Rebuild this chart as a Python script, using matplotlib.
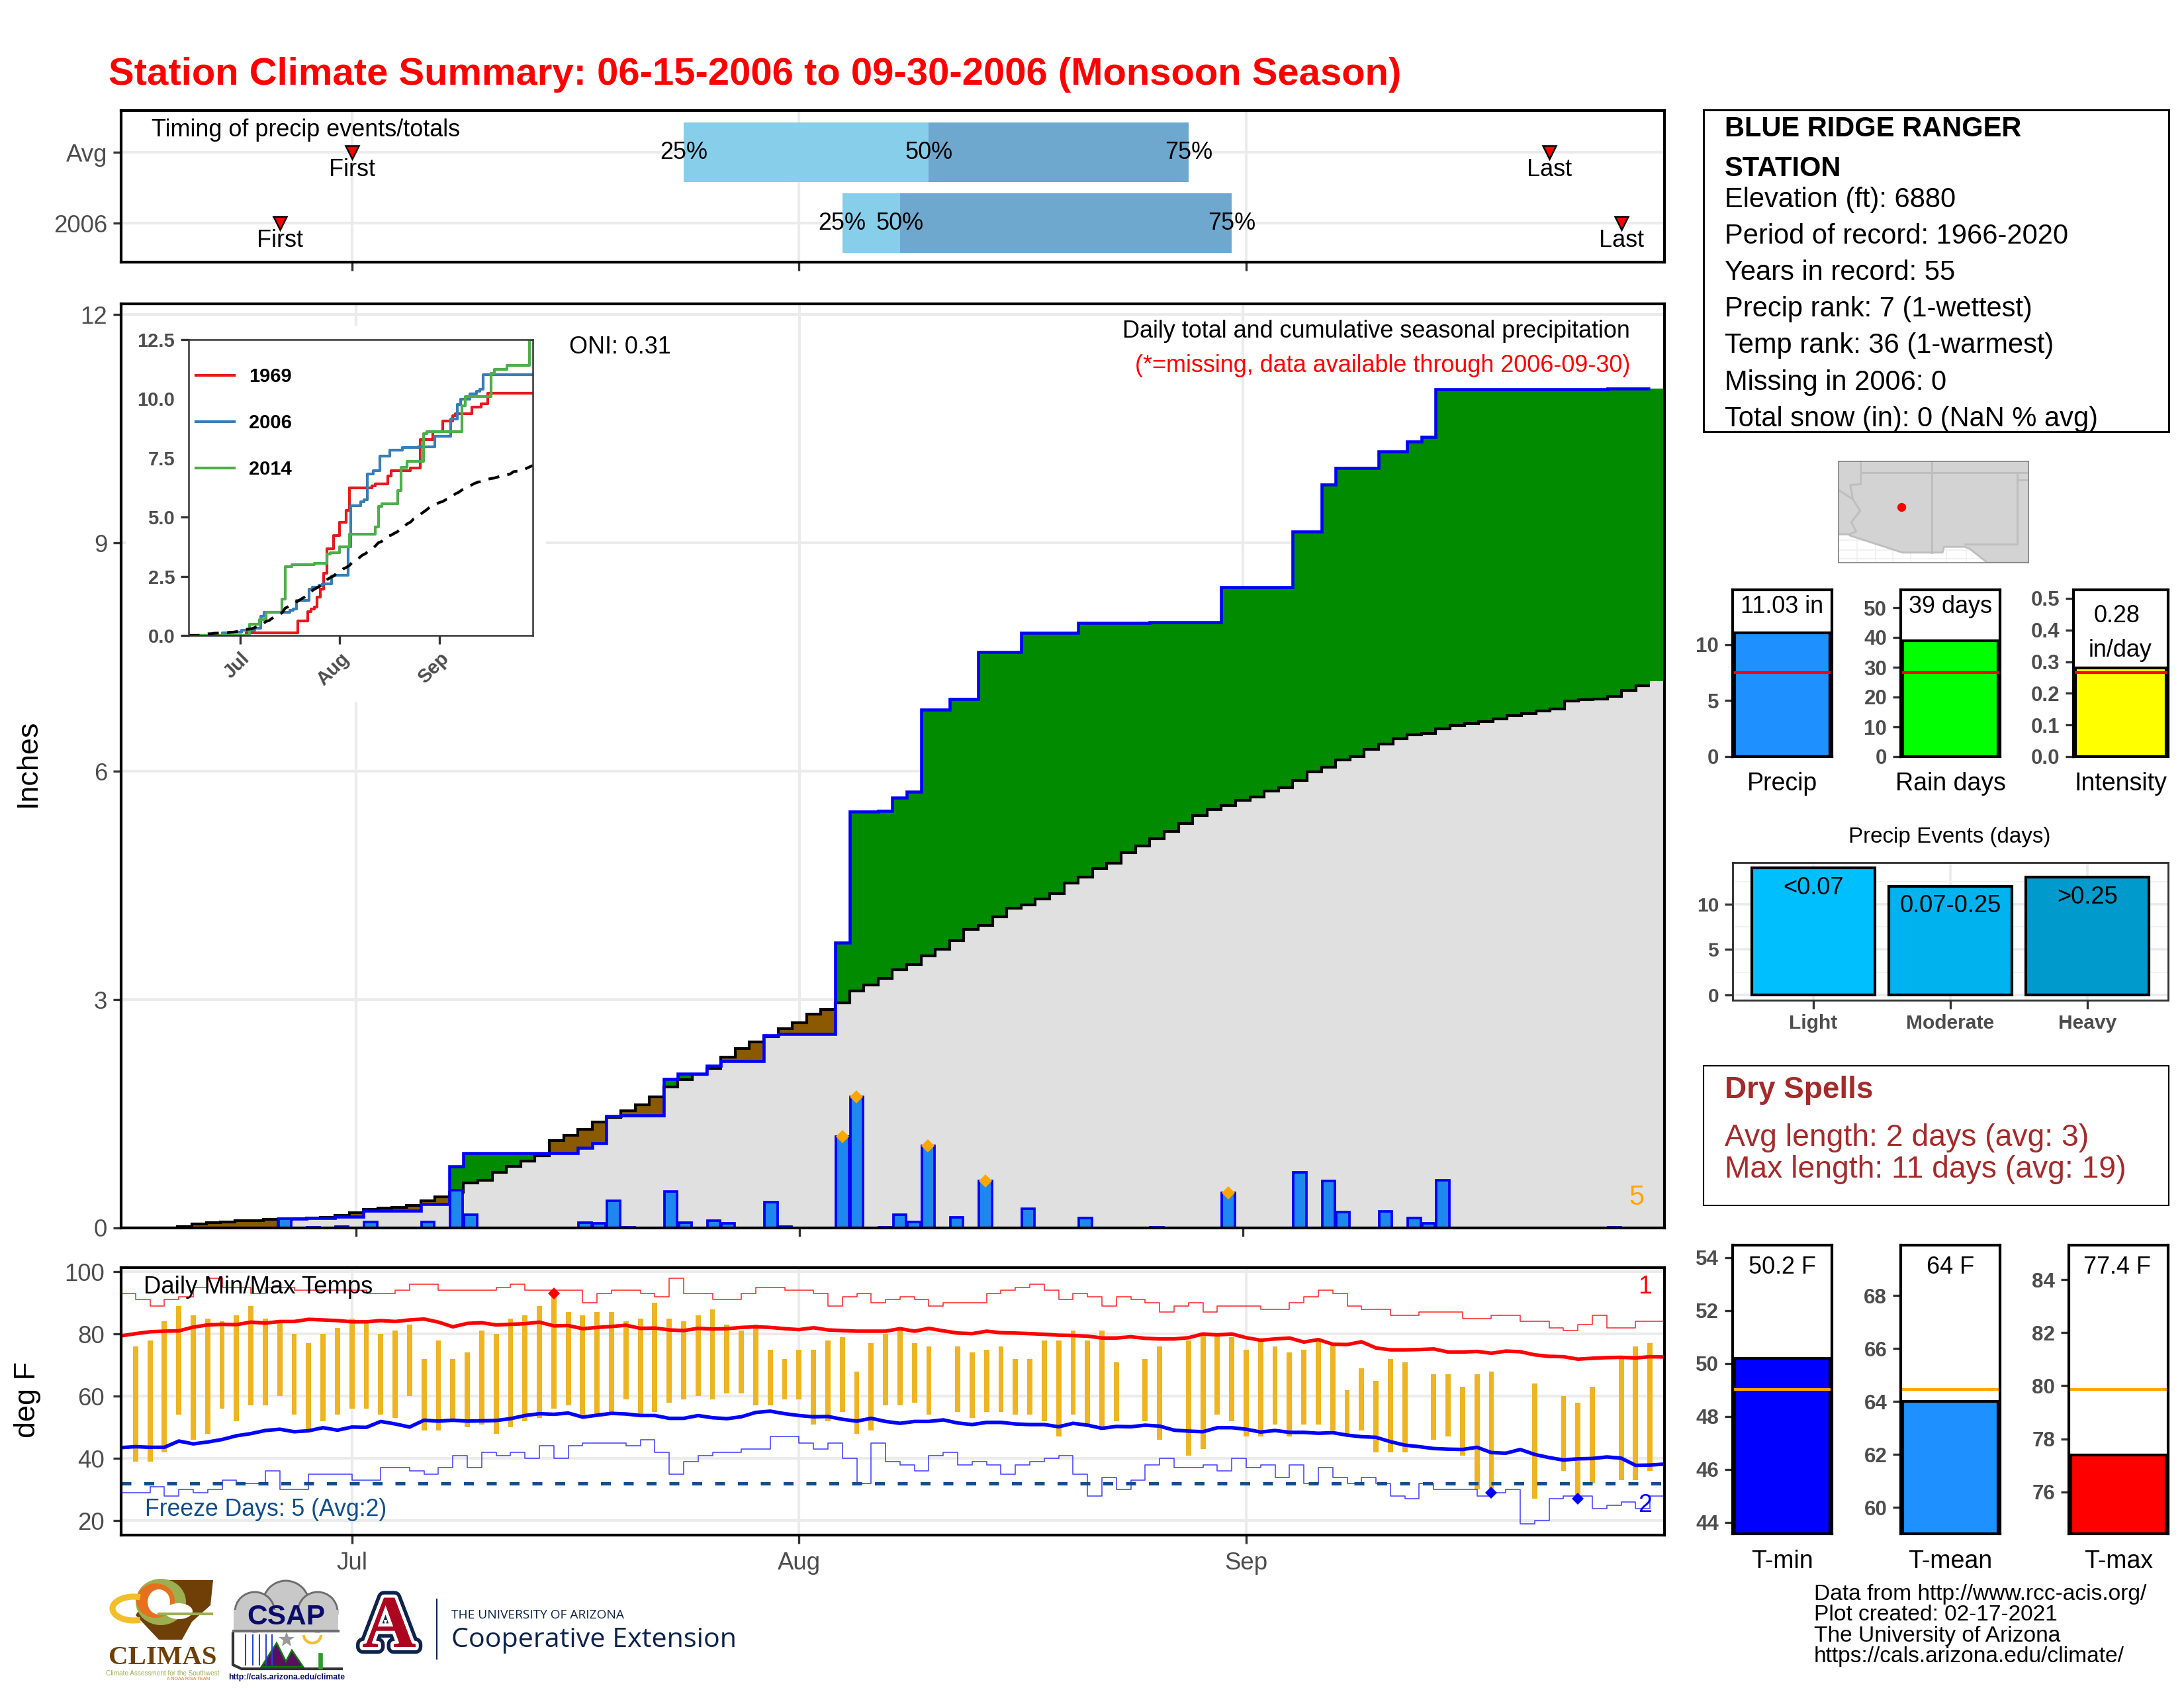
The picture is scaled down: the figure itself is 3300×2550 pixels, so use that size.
import numpy as np
import matplotlib
matplotlib.use("Agg")
import matplotlib.pyplot as plt
import matplotlib.patches as mpatches
import matplotlib.patheffects as pe

plt.rcParams['font.family'] = ['Liberation Sans', 'DejaVu Sans']

W, H = 3300, 2550
nan = float('nan')

# day index 0 = Jun 15, 107 = Sep 30
days = np.arange(108)
month_days = [16, 47, 78]
month_labels = ["Jul", "Aug", "Sep"]

rain_days = [11, 13, 15, 17, 21, 23, 24, 32, 33, 34, 35, 38, 39, 41, 42, 45, 46, 50, 51, 53, 54, 55, 56,
             58, 60, 63, 67, 72, 77, 82, 84, 85, 88, 90, 91, 92, 104]
rain_vals = [.12, .01, .02, .08, .08, .50, .17, .07, .06, .36, .01, .48, .07, .10, .06, .34, .02, 1.20, 1.72, .01, .17, .08, 1.08,
             .14, .62, .25, .13, .01, .46, .73, .62, .21, .22, .13, .06, .63, .01]
big_rain_days = [50, 51, 56, 60, 77]

avg_cum = [0, 0, 0, 0, .02, .05, .07, .075, .095, .10, .11, .115, .12, .13, .14, .165, .197, .24, .26, .27,
           .30, .36, .41, .47, .59, .63, .73, .81, .88, .95, 1.15, 1.22, 1.30, 1.39, 1.45, 1.54, 1.62, 1.72, 1.85, 1.95,
           2.02, 2.10, 2.24, 2.36, 2.44, 2.51, 2.62, 2.70, 2.81, 2.87, 2.96, 3.11, 3.19, 3.28, 3.39, 3.46, 3.57, 3.66, 3.77, 3.92,
           3.97, 4.09, 4.20, 4.24, 4.32, 4.39, 4.53, 4.61, 4.72, 4.79, 4.93, 5.02, 5.11, 5.21, 5.31, 5.42, 5.50, 5.55, 5.62, 5.66,
           5.74, 5.78, 5.88, 5.99, 6.05, 6.15, 6.19, 6.29, 6.36, 6.43, 6.48, 6.50, 6.56, 6.60, 6.63, 6.65, 6.69, 6.73, 6.76, 6.79,
           6.82, 6.92, 6.94, 6.95, 6.98, 7.06, 7.12, 7.18]

# other years for the inset, day of each step and total after it
y1969_days = [0, 18, 34, 37, 38, 39, 40, 41, 42, 43, 45, 47, 49, 50, 57, 58, 62, 63, 69, 72, 76, 79, 82, 83, 88, 91, 93, 107]
y1969_vals = [0, .1, .61, 1.02, 1.11, 1.2, 1.63, 1.95, 2.64, 3.66, 4.23, 4.79, 5.29, 6.25, 6.32, 6.39, 6.75, 6.96, 7.07, 8.29, 8.61, 9.05, 9.28, 9.37, 9.66, 9.8, 10.24, 10.24]
y2014_days = [0, 19, 22, 24, 29, 30, 32, 39, 43, 44, 47, 50, 58, 59, 60, 65, 66, 68, 73, 74, 85, 86, 94, 95, 99, 106, 107]
y2014_vals = [0, .48, .66, .98, 1.55, 2.91, 3.0, 3.05, 3.45, 3.5, 3.75, 4.28, 4.59, 5.45, 5.57, 6.12, 7.09, 7.36, 8.53, 8.62, 9.71, 10.09, 11.08, 11.23, 11.42, 12.5, 12.5]

tmax = [nan, 76, 78, 84, 89, 86, 85, 84, 86, 89, 85,
        84, 80, 77, 80, 82, 85, 84, 80, 81, 83,
        72, 78, 72, 74, 81, 80, 85, 86, 89, 93,
        87, 86, 87, 87, 84, 85, 90, 85, 84, 86,
        88, 83, 81, 83, 75, 72, 75, 75, 78, 79,
        68, 77, 80, 81, 77, 76, nan, 76, 74, 75,
        76, 72, 72, 78, 78, 81, 78, 81, 71, nan,
        72, 76, nan, 78, 80, 80, 79, 75, 78, 76,
        74, 75, 78, 77, 62, 69, 65, 72, 71, nan,
        67, 67, 63, 67, 68, nan, nan, 64, nan, 60,
        58, 63, nan, 72, 76, 77, nan]
tmin = [nan, 39, 39, 42, 54, 46, 48, 56, 52, 57, 57,
        60, 54, 49, 52, 54, 56, 56, 54, 53, 60,
        49, 49, 52, 50, 51, 48, 50, 52, 53, 56,
        57, 54, 54, 55, 59, 54, 55, 58, 59, 60,
        59, 61, 61, 57, 57, 59, 59, 51, 52, 55,
        48, 49, 57, 57, 58, 54, nan, 55, 53, 55,
        55, 54, 54, 52, 47, 54, 50, 50, 52, nan,
        52, 46, nan, 41, 43, 54, 52, 47, 47, 51,
        47, 51, 51, 49, 48, 49, 42, 42, 42, nan,
        46, 47, 41, 30, 29, nan, nan, 27, nan, 36,
        27, 32, nan, 33, 33, 36, nan]
avg_tmax = [79.4, 80.1, 80.7, 80.9, 81, 82.2, 82.9, 83.1, 83, 83.8, 83.5, 84, 84, 84.7, 84.5, 84.3, 83.9, 83.9, 84.3, 84,
            84.5, 84.8, 83.8, 82.3, 83.4, 83.6, 82.9, 83.1, 83.3, 83.8, 82.6, 82.7, 81.7, 82.1, 82.4, 82.8, 81.8, 81.9, 81.3, 81.1,
            81.8, 81.6, 81.7, 82.1, 82.3, 82.1, 81.7, 81.4, 82, 81.3, 81.1, 80.9, 80.9, 80.9, 81.7, 80.9, 81.8, 81, 80.3, 80.1,
            80.9, 80.4, 80.3, 80.1, 79.9, 79.6, 79.5, 79.3, 78.7, 78.7, 79.1, 78.6, 78.4, 78.4, 78.8, 80, 79.7, 80, 78.8, 78,
            78.4, 78.7, 77.4, 78.2, 76.7, 76.6, 77.5, 75.5, 74.9, 74.9, 75, 75.2, 74.2, 74.2, 74.4, 73.8, 74.5, 74.3, 73.3, 72.8,
            72.7, 71.9, 72.2, 72.4, 72.5, 72.3, 72.7, 72.6]
avg_tmin = [43.5, 43.8, 43.6, 43.6, 45.6, 44.7, 45.3, 46.1, 47.3, 48, 49, 49.4, 48.6, 48.9, 49.9, 49.1, 50.1, 50, 51.9, 51.1,
            50.1, 52.3, 52, 52.3, 52, 52.1, 52.2, 52.8, 53.8, 54.4, 54.2, 54.6, 53.3, 53.9, 54.5, 54.3, 53.8, 53.8, 52.9, 52.9,
            53.8, 53.1, 52.8, 53.4, 54.8, 55.2, 54.4, 53.8, 53.4, 53.5, 52.6, 52, 52.9, 51.9, 51.3, 51.9, 51.9, 52.4, 51.4, 50.9,
            51.6, 51.6, 51.1, 50.9, 50.9, 50.2, 51.3, 50.7, 49.7, 50.3, 50.2, 50.7, 50.4, 49.1, 48.8, 48.6, 49.9, 49.9, 49.4, 48.5,
            49, 48.4, 48.4, 48.1, 48.3, 47.5, 47, 46.8, 45.4, 44.3, 43.8, 43.2, 43, 42.9, 43.6, 41.9, 41.7, 42.9, 41.3, 40.3,
            39.5, 39.9, 40, 40.5, 40.1, 37.8, 37.9, 38.2]
rec_hi = [93, 91, 89, 91, 92, 95, 98, 95, 95, 93, 95, 95, 94, 94, 94, 94, 94, 93, 93, 94,
          96, 96, 94, 94, 94, 94, 95, 96, 94, 94, 94, 94, 90, 93, 94, 94, 93, 92, 98, 93,
          93, 91, 91, 93, 95, 95, 94, 94, 93, 89, 92, 93, 90, 91, 92, 91, 89, 90, 90, 90,
          93, 94, 95, 96, 94, 91, 93, 92, 89, 92, 91, 90, 87, 89, 90, 87, 89, 89, 89, 88,
          88, 90, 92, 94, 93, 89, 88, 88, 86, 86, 87, 87, 87, 85, 85, 86, 86, 84, 84, 82,
          81, 83, 86, 82, 82, 84, 84, 84]
rec_lo = [29, 29, 31, 28, 30, 29, 30, 33, 32, 32, 36, 30, 30, 35, 35, 35, 33, 33, 37, 37,
          36, 35, 37, 41, 37, 42, 41, 42, 40, 44, 40, 44, 45, 45, 45, 44, 46, 42, 35, 39,
          41, 42, 42, 43, 43, 47, 47, 45, 43, 45, 40, 32, 45, 39, 38, 36, 41, 42, 38, 39,
          38, 35, 38, 39, 40, 41, 35, 28, 34, 30, 33, 38, 40, 37, 37, 38, 36, 40, 37, 38,
          34, 38, 32, 37, 34, 32, 34, 32, 28, 27, 32, 30, 30, 30, 28, 29, 30, 19, 20, 27,
          28, 28, 24, 25, 26, 24, 28, 28]
hot_days = [30]
cold_days = [95, 101]
freeze_temp = 32

# timing panel: first, 25%, 50%, 75%, last
timing_rows = ["2006", "Avg"]
timing_2006 = [11, 50, 54, 77, 104]
timing_avg = [16, 39, 56, 74, 99]

summary_vals = [11.03, 39, 0.28]
summary_avgs = [7.5, 28.2, 0.2655]
event_labels = ["Light", "Moderate", "Heavy"]
event_vals = [14, 12, 13]
event_bins = ["<0.07", "0.07-0.25", ">0.25"]
temp_vals = [50.2, 64, 77.4]
temp_avgs = [49.02, 64.45, 79.86]

info_lines = ["Elevation (ft): 6880", "Period of record: 1966-2020", "Years in record: 55",
              "Precip rank: 7 (1-wettest)", "Temp rank: 36 (1-warmest)", "Missing in 2006: 0",
              "Total snow (in): 0 (NaN % avg)"]
foot_lines = ["Data from http://www.rcc-acis.org/", "Plot created: 02-17-2021",
              "The University of Arizona", "https://cals.arizona.edu/climate/"]

GRID = "#EBEBEB"
GREY = "#4D4D4D"
TICK = "#333333"

fig = plt.figure(figsize=(11, 8.5), dpi=300, facecolor="white")


def ax_px(x0, y0, x1, y1, **kw):
    return fig.add_axes([x0 / W, 1 - y1 / H, (x1 - x0) / W, (y1 - y0) / H], **kw)


def frame(ax, color="black", lw=1.0):
    for s in ax.spines.values():
        s.set_color(color)
        s.set_linewidth(lw)
        s.set_zorder(20)


def ticks(ax, size=9, weight="normal", pad=2):
    ax.tick_params(axis="both", length=3, width=0.8, color=TICK, labelcolor=GREY, labelsize=size, pad=pad)
    for t in ax.get_xticklabels() + ax.get_yticklabels():
        t.set_fontweight(weight)


x0_main, x1_main = 183, 2515

# timing panel
ax_top = ax_px(x0_main, 167, x1_main, 396)
ax_top.set_xlim(0, 107)
ax_top.set_ylim(0.45, 2.59)
ax_top.set_xticks(month_days)
ax_top.set_xticklabels([])
ax_top.set_yticks([1, 2])
ax_top.set_yticklabels(timing_rows)
ax_top.grid(True, color=GRID, lw=1.0)
ax_top.set_axisbelow(True)
for row, vals in zip([1, 2], [timing_2006, timing_avg]):
    first, q25, q50, q75, last = vals
    ax_top.barh(row, q50 - q25, left=q25, height=0.84, color="#87CEEB", zorder=2)
    ax_top.barh(row, q75 - q50, left=q50, height=0.84, color="#6FA8CE", zorder=2)
    for v, lab in zip([q25, q50, q75], ["25%", "50%", "75%"]):
        ax_top.text(v, row, lab, ha="center", va="center", fontsize=8.65, color="black", zorder=4)
    for v, lab in zip([first, last], ["First", "Last"]):
        ax_top.plot([v], [row], marker="v", ms=5, mfc="red", mec="black", mew=0.6, zorder=4)
        ax_top.text(v, row - 0.25, lab, ha="center", va="center", fontsize=8.65, zorder=4)
frame(ax_top)
ticks(ax_top, 8.8)

# main precip panel
ax = ax_px(x0_main, 459, x1_main, 1855)
daily = np.zeros(108)
daily[rain_days] = rain_vals
obs = np.cumsum(daily)
avg = np.array(avg_cum)
edges = np.append(days - 0.5, 107.5)
low = np.minimum(obs, avg)
high = np.maximum(obs, avg)
ax.set_xlim(-0.45, 107.5)
ax.set_ylim(0, 12.14)
ax.set_xticks(month_days)
ax.set_xticklabels([])
ax.set_yticks([0, 3, 6, 9, 12])
ax.grid(True, color=GRID, lw=1.0)
ax.set_axisbelow(True)
ax.stairs(low, edges, baseline=0, fill=True, color="#E0E0E0", lw=0, zorder=2)
ax.stairs(high, edges, baseline=avg, fill=True, color="#008B00", lw=0, zorder=2)
ax.stairs(high, edges, baseline=obs, fill=True, color="#8B5A00", lw=0, zorder=2)
ax.stairs(avg[:-1], edges[:-1], baseline=None, color="black", lw=1.0, zorder=3)
ax.stairs(obs[:-1], edges[:-1], baseline=None, color="#0000FF", lw=1.1, zorder=4)
ax.bar(days, daily, width=0.9, color="#1E88EE", edgecolor="#0000FF", lw=0.9, zorder=5)
ax.plot(big_rain_days, daily[big_rain_days], ls="none", marker="D", ms=3.4, color="orange", mew=0, zorder=6)
frame(ax)
ticks(ax, 8.8)

# temperature panel
ax_t = ax_px(x0_main, 1915, x1_main, 2319)
ax_t.set_xlim(0, 107)
ax_t.set_ylim(15.4, 101.3)
ax_t.set_xticks(month_days)
ax_t.set_xticklabels(month_labels)
ax_t.set_yticks([20, 40, 60, 80, 100])
ax_t.grid(True, color=GRID, lw=1.0)
ax_t.set_axisbelow(True)
hi = np.array(tmax)
lo = np.array(tmin)
ax_t.bar(days, hi - lo, bottom=lo, width=0.36, color="#EEB422", zorder=2)
ax_t.step(days, rec_hi, where="post", color="#FF0000", lw=0.4, alpha=0.8, zorder=3)
ax_t.step(days, rec_lo, where="post", color="#0000FF", lw=0.4, alpha=0.7, zorder=3)
ax_t.plot(days, avg_tmax, color="#FF0000", lw=1.3, zorder=4)
ax_t.plot(days, avg_tmin, color="#0000FF", lw=1.3, zorder=4)
ax_t.axhline(freeze_temp, color="#104E8B", lw=1.2, dashes=(3, 3.9), zorder=4)
ax_t.plot(hot_days, hi[hot_days], ls="none", marker="D", ms=3.0, color="red", mew=0, zorder=5)
ax_t.plot(cold_days, lo[cold_days], ls="none", marker="D", ms=3.0, color="blue", mew=0, zorder=5)
frame(ax_t)
ticks(ax_t, 8.8, pad=3)

# white block behind the inset, it hides the main grid
ax_w = ax_px(190, 492, 825, 1060, facecolor="white", zorder=5)
ax_w.set_axis_off()
ax_w.add_patch(mpatches.Rectangle((0, 0), 1, 1, transform=ax_w.transAxes, color="white", lw=0))

ax_i = ax_px(285, 513, 805, 960, zorder=6)
ax_i.set_xlim(0, 107)
ax_i.set_ylim(0, 12.5)
ax_i.set_xticks(month_days)
ax_i.set_xticklabels(month_labels, rotation=45, ha="right", rotation_mode="anchor")
ax_i.set_yticks([0, 2.5, 5, 7.5, 10, 12.5])
ax_i.set_yticklabels(["0.0", "2.5", "5.0", "7.5", "10.0", "12.5"])
ax_i.step(y1969_days, y1969_vals, where="post", color="#E41A1C", lw=1.0, label="1969")
ax_i.step(days, obs, where="mid", color="#377EB8", lw=1.0, label="2006")
ax_i.step(y2014_days, y2014_vals, where="post", color="#4DAF4A", lw=1.0, label="2014")
ax_i.plot(days, avg, color="black", lw=1.0, dashes=(4, 3))
frame(ax_i, TICK, 0.6)
ticks(ax_i, 7, "bold")
leg = ax_i.legend(loc="upper left", bbox_to_anchor=(-0.03, 0.965), frameon=True, facecolor="white", edgecolor="none",
                  framealpha=1, fancybox=False, prop={"size": 7, "weight": "bold"}, labelspacing=1.45,
                  handlelength=2.0, handletextpad=0.75, borderaxespad=0, borderpad=0.9)


def mini_bar(rect, val, avg_val, ylim, yticks, fill, avg_color, fmt=None):
    a = ax_px(*rect)
    a.set_xlim(0, 1)
    a.set_ylim(*ylim)
    a.bar(0.5, val, width=0.955, color=fill, edgecolor="black", lw=1.0, zorder=2)
    a.axhline(avg_val, color=avg_color, lw=1.0, zorder=3)
    a.set_xticks([])
    a.set_yticks(yticks)
    if fmt:
        a.set_yticklabels([fmt % v for v in yticks])
    frame(a)
    ticks(a, 7.5, "bold")
    return a


mini_bar((2618, 891, 2768, 1143), summary_vals[0], summary_avgs[0], (0, 14.9), [0, 5, 10], "#1E90FF", "red")
mini_bar((2872, 891, 3022, 1143), summary_vals[1], summary_avgs[1], (0, 56), [0, 10, 20, 30, 40, 50], "#00FF00", "red")
mini_bar((3133, 891, 3276, 1143), summary_vals[2], summary_avgs[2], (0, .527), [0, .1, .2, .3, .4, .5], "#FFFF00", "red", "%.1f")

mini_bar((2618, 1881, 2768, 2317), temp_vals[0], temp_avgs[0], (43.57, 54.47), [44, 46, 48, 50, 52, 54], "#0000FF", "orange")
mini_bar((2872, 1881, 3022, 2317), temp_vals[1], temp_avgs[1], (59.0, 69.9), [60, 62, 64, 66, 68], "#1E90FF", "orange")
mini_bar((3126, 1881, 3276, 2317), temp_vals[2], temp_avgs[2], (74.42, 85.3), [76, 78, 80, 82, 84], "#FF0000", "orange")

# precip events
ax_e = ax_px(2618, 1303, 3276, 1511)
ax_e.set_xlim(0.41, 3.59)
ax_e.set_ylim(-0.59, 14.6)
ax_e.bar([1, 2, 3], event_vals, width=0.9, color=["#00BFFF", "#00B2EE", "#009ACD"], edgecolor="black", lw=1.0, zorder=3)
ax_e.set_xticks([1, 2, 3])
ax_e.set_xticklabels(event_labels)
ax_e.set_yticks([0, 5, 10])
ax_e.set_yticks([2.5, 7.5, 12.5], minor=True)
ax_e.grid(True, which="major", color=GRID, lw=0.9)
ax_e.grid(True, which="minor", axis="y", color="#F2F2F2", lw=0.5)
ax_e.tick_params(which="minor", length=0)
ax_e.set_axisbelow(True)
for i, (lab, v) in enumerate(zip(event_bins, event_vals)):
    ax_e.text(i + 1, v - 2.2, lab, ha="center", va="center", fontsize=8.7, zorder=5)
frame(ax_e, TICK, 0.7)
ticks(ax_e, 7.2, "bold")

# location map, lon/lat
map_land_lon = [-115.6, -114.82, -114.82, -111.1, -108.28, -108.17, -106.7, -106.37, -105.13, -102.23, -102.23, -115.6]
map_land_lat = [32.69, 32.69, 32.61, 31.41, 31.41, 31.81, 31.81, 31.68, 30.7, 30.7, 37.8, 37.8]
map_borders = [([-114.03, -114.03, -114.77, -114.59, -114.07, -114.7, -114.36, -114.82], [37.8, 36.2, 36.15, 35.14, 34.34, 33.54, 32.88, 32.69]),
               ([-115.6, -114.59], [35.8, 35.14]),
               ([-114.03, -102.23], [37, 37]),
               ([-109.05, -109.05], [37.8, 31.41]),
               ([-103.04, -103.04, -106.7], [37, 32, 32]),
               ([-103.04, -102.23], [36.5, 36.5])]
station_lon, station_lat = -111.19, 34.6
ax_m = ax_px(2778, 697, 3065, 850)
ax_m.set_xlim(-115.6, -102.23)
ax_m.set_ylim(30.7, 37.8)
ax_m.set_xticks([])
ax_m.set_yticks([])
for v in [-114.3, -113, -111.8, -110.5, -108, -106.6]:
    ax_m.axvline(v, color="#EFEFEF", lw=0.4, zorder=1)
for v in [31, 31.6, 32.3]:
    ax_m.axhline(v, color="#EFEFEF", lw=0.4, zorder=1)
ax_m.fill(map_land_lon, map_land_lat, color="#D3D3D3", lw=0, zorder=2)
ax_m.plot(map_land_lon[:10], map_land_lat[:10], color="#BEBEBE", lw=0.7, zorder=3)
for lons, lats in map_borders:
    ax_m.plot(lons, lats, color="#BEBEBE", lw=0.7, zorder=3)
ax_m.plot([station_lon], [station_lat], marker="o", ms=3.2, color="red", mew=0, zorder=4)
frame(ax_m, "#7F7F7F", 0.4)

# page layer for text, boxes and logos, in pixels of the picture
pg = fig.add_axes([0, 0, 1, 1], zorder=10)
pg.set_xlim(0, W)
pg.set_ylim(H, 0)
pg.set_axis_off()
pg.patch.set_alpha(0)


def txt(x, y, s, size=9, color="black", ha="left", va="center", **kw):
    return pg.text(x, y + 3, s, fontsize=size, color=color, ha=ha, va=va, **kw)


txt(164, 110, "Station Climate Summary: 06-15-2006 to 09-30-2006 (Monsoon Season)", 13.91, "red", weight="bold")
txt(42, 1150, "Inches", 10.8, rotation=90, ha="center")
txt(42, 2112, "deg F", 10.8, rotation=90, ha="center")
txt(229, 194, "Timing of precip events/totals", 8.65)
txt(860, 522, "ONI: 0.31", 8.65)
txt(2463, 497, "Daily total and cumulative seasonal precipitation", 8.65, ha="right")
txt(2463, 549, "(*=missing, data available through 2006-09-30)", 8.65, "red", ha="right")
txt(2473, 1806, "5", 10, "orange", ha="center")
txt(217, 1941, "Daily Min/Max Temps", 8.75)
txt(2486, 1941, "1", 9, "red", ha="center")
txt(219, 2278, "Freeze Days: 5 (Avg:2)", 8.55, "#104E8B")
txt(2486, 2271, "2", 9, "blue", ha="center")

# station box
pg.add_patch(mpatches.Rectangle((2574, 166), 703, 486, fill=False, ec="black", lw=0.7))
txt(2606, 192, "BLUE RIDGE RANGER", 10, weight="bold")
txt(2606, 252, "STATION", 10, weight="bold")
for i, line in enumerate(info_lines):
    txt(2606, 299 + i * 55.1, line, 10)

txt(2693, 914, "11.03 in", 8.65, ha="center")
txt(2947, 914, "39 days", 8.65, ha="center")
txt(3199, 928, "0.28", 8.65, ha="center")
txt(3204, 980, "in/day", 8.65, ha="center")
txt(2693, 1181, "Precip", 9, ha="center")
txt(2947, 1181, "Rain days", 9, ha="center")
txt(3204, 1181, "Intensity", 9, ha="center")
txt(2946, 1261, "Precip Events (days)", 7.95, ha="center")

# dry spells
BROWN = "#A52A2A"
pg.add_patch(mpatches.Rectangle((2574, 1610), 703, 211, fill=False, ec="black", lw=0.5))
txt(2606, 1644, "Dry Spells", 11, BROWN, weight="bold")
txt(2606, 1716, "Avg length: 2 days (avg: 3)", 11.1, BROWN)
txt(2606, 1764, "Max length: 11 days (avg: 19)", 11.1, BROWN)

txt(2693, 1912, "50.2 F", 8.65, ha="center")
txt(2947, 1912, "64 F", 8.65, ha="center")
txt(3199, 1912, "77.4 F", 8.65, ha="center")
txt(2693, 2356, "T-min", 9, ha="center")
txt(2947, 2356, "T-mean", 9, ha="center")
txt(3201, 2356, "T-max", 9, ha="center")
for i, line in enumerate(foot_lines):
    txt(2741, 2405 + i * 31.6, line, 8.05)

# CLIMAS logo
CL_BROWN = "#6F3F08"
pg.add_patch(mpatches.Polygon([(240, 2387), (322, 2387), (318, 2425), (290, 2450), (275, 2477), (240, 2477), (205, 2440)], color=CL_BROWN, lw=0))
pg.add_patch(mpatches.Ellipse((243, 2420), 76, 70, color="#9CAF4F", lw=0))
pg.add_patch(mpatches.Ellipse((235, 2418), 58, 52, color="#E5711F", lw=0))
pg.add_patch(mpatches.Ellipse((240, 2420), 34, 38, color="white", lw=0))
pg.add_patch(mpatches.Ellipse((270, 2434), 42, 24, color="white", lw=0))
pg.add_patch(mpatches.Arc((202, 2430), 64, 36, theta1=60, theta2=300, color="#F2BE2C", lw=2.2))
pg.plot([240, 320], [2438, 2438], color="#9CAF4F", lw=1.0)
txt(246, 2501, "CLIMAS", 9.8, CL_BROWN, ha="center", family="Liberation Serif", weight="bold")
txt(246, 2525, "Climate Assessment for the Southwest", 2.4, "#9CAF4F", ha="center")
txt(285, 2534, "A NOAA RISA TEAM", 1.7, "#E5711F", ha="center")

# CSAP logo
for cx, cy, r in [(432, 2423, 35), (385, 2435, 30), (480, 2435, 30)]:
    pg.add_patch(mpatches.Circle((cx, cy), r, fc="#C8C8C8", ec="#6E6E6E", lw=0.7))
pg.add_patch(mpatches.Rectangle((353, 2432), 158, 32, fc="#C8C8C8", ec="none"))
pg.plot([353, 511], [2464, 2464], color="#6E6E6E", lw=1.0)
txt(432, 2440, "CSAP", 10.2, "#0B0B6E", ha="center", weight="bold")
pg.plot([352, 352, 365, 516], [2468, 2515, 2521, 2521], color="#333333", lw=1.0)
for xv in [371, 382, 392, 402, 411]:
    pg.plot([xv, xv], [2470, 2515], color="#2244DD", lw=0.5)
pg.add_patch(mpatches.Polygon([(395, 2518), (418, 2482), (432, 2510), (441, 2493), (458, 2518)], fc="#5A0F5E", ec="#0A7A0A", lw=0.6))
pg.plot([433], [2477], marker="*", ms=6, color="#999999", mew=0)
pg.add_patch(mpatches.Arc((472, 2470), 26, 24, theta1=0, theta2=180, color="#F2BE2C", lw=1.0))
pg.plot([484, 484], [2500, 2518], color="#2E9B2E", lw=1.6)
txt(433, 2531, "http://cals.arizona.edu/climate", 2.95, "#0B0B6E", ha="center", weight="bold")

# University of Arizona logo
UA_NAVY = "#0C234B"
txt(588, 2458, "A", 27, "#AB0520", ha="center", family="Liberation Serif", weight="bold",
    path_effects=[pe.withStroke(linewidth=5, foreground=UA_NAVY), pe.withStroke(linewidth=2.4, foreground="white"), pe.Normal()])
pg.plot([660, 660], [2416, 2506], color=UA_NAVY, lw=0.5)
txt(682, 2437, "THE UNIVERSITY OF ARIZONA", 4.6, UA_NAVY, family="Open Sans")
txt(682, 2475, "Cooperative Extension", 9.9, UA_NAVY, family="Open Sans")

fig.savefig("out.png", dpi=300)
